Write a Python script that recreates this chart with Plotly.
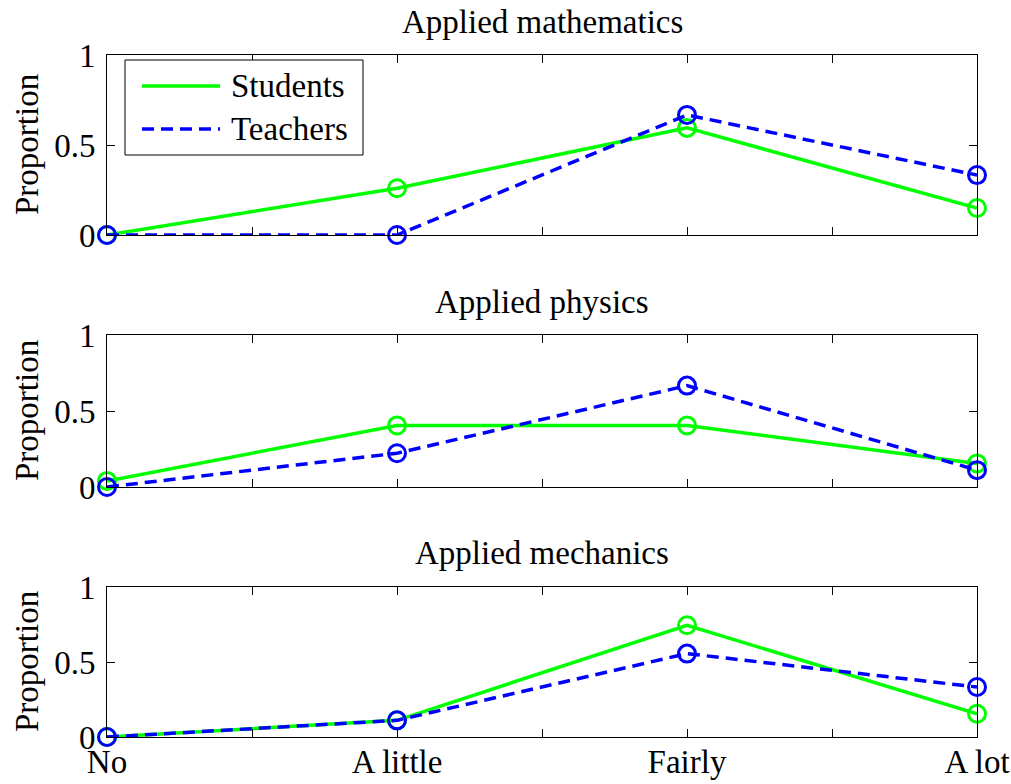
import plotly.graph_objects as go
from plotly.subplots import make_subplots

# Response categories and tick layout
categories = ["No", "A little", "Fairly", "A lot"]
x_positions = [1, 2, 3, 4]
x_tick_vals = [1, 1.5, 2, 2.5, 3, 3.5, 4]
x_tick_text = ["No", "", "A little", "", "Fairly", "", "A lot"]
y_tick_vals = [0, 0.5, 1]
y_tick_text = ["0", "0.5", "1"]

panel_titles = ["Applied mathematics", "Applied physics", "Applied mechanics"]

# Proportion of responses per category
students_math = [0.0, 0.26, 0.595, 0.15]
teachers_math = [0.0, 0.0, 0.667, 0.333]
students_phys = [0.04, 0.405, 0.405, 0.155]
teachers_phys = [0.0, 0.222, 0.667, 0.111]
students_mech = [0.0, 0.111, 0.745, 0.155]
teachers_mech = [0.0, 0.111, 0.556, 0.333]

students = [students_math, students_phys, students_mech]
teachers = [teachers_math, teachers_phys, teachers_mech]

W, H = 1011, 784
FONT = "Liberation Serif"
FS = 33
GREEN = "#00FF00"
BLUE = "#0000FF"


def px_x(p):
    return p / W


def px_y(p):
    return 1 - p / H


# panel extents in pixels (top, bottom)
panels = [(55, 235), (335, 487), (587, 737)]
x_left, x_right = 107, 977

fig = make_subplots(rows=3, cols=1)

for i in range(3):
    fig.add_trace(go.Scatter(
        x=x_positions, y=students[i], mode="lines+markers",
        line=dict(color=GREEN, width=3.5),
        marker=dict(symbol="circle-open", size=17, color=GREEN, line=dict(width=3, color=GREEN)),
        cliponaxis=False, showlegend=False, name="Students"), row=i + 1, col=1)
    fig.add_trace(go.Scatter(
        x=x_positions, y=teachers[i], mode="lines+markers",
        line=dict(color=BLUE, width=3.5, dash="12px,7px"),
        marker=dict(symbol="circle-open", size=17, color=BLUE, line=dict(width=3, color=BLUE)),
        cliponaxis=False, showlegend=False, name="Teachers"), row=i + 1, col=1)

axis_common = dict(showline=True, mirror="ticks", linecolor="black", linewidth=1,
                   ticks="inside", ticklen=8, tickcolor="black", tickwidth=1,
                   showgrid=False, zeroline=False, automargin=False,
                   tickfont=dict(family=FONT, size=FS, color="black"))

for i, (top, bot) in enumerate(panels):
    xa = "xaxis" if i == 0 else f"xaxis{i + 1}"
    ya = "yaxis" if i == 0 else f"yaxis{i + 1}"
    fig.update_layout({
        xa: dict(domain=[px_x(x_left), px_x(x_right)], range=[1, 4],
                 tickmode="array", tickvals=x_tick_vals, ticktext=x_tick_text,
                 showticklabels=(i == 2), ticklabelstandoff=-5, **axis_common),
        ya: dict(domain=[px_y(bot), px_y(top)], range=[0, 1],
                 tickmode="array", tickvals=y_tick_vals, ticktext=y_tick_text,
                 ticklabelstandoff=4, **axis_common),
    })

annotations = []
title_centers = [22, 302, 553]
for i, (top, bot) in enumerate(panels):
    annotations.append(dict(text=panel_titles[i], x=px_x((x_left + x_right) / 2), y=px_y(title_centers[i]),
                            xref="paper", yref="paper", xanchor="center", yanchor="middle",
                            showarrow=False, font=dict(family=FONT, size=FS, color="black")))
    annotations.append(dict(text="Proportion", x=px_x(27), y=px_y((top + bot) / 2),
                            xref="paper", yref="paper", xanchor="center", yanchor="middle",
                            textangle=-90, showarrow=False,
                            font=dict(family=FONT, size=FS, color="black")))

# legend box drawn in the first panel
leg_x0, leg_x1, leg_y0, leg_y1 = 125, 363, 60, 155
shapes = [dict(type="rect", xref="paper", yref="paper",
               x0=px_x(leg_x0), x1=px_x(leg_x1), y0=px_y(leg_y1), y1=px_y(leg_y0),
               line=dict(color="black", width=1), fillcolor="white", layer="above")]
legend_items = [("Students", GREEN, "solid", 86), ("Teachers", BLUE, "12px,7px", 129)]
for label, color, dash, yc in legend_items:
    shapes.append(dict(type="line", xref="paper", yref="paper",
                       x0=px_x(142), x1=px_x(220), y0=px_y(yc), y1=px_y(yc),
                       line=dict(color=color, width=3.5, dash=dash), layer="above"))
    annotations.append(dict(text=label, x=px_x(229), y=px_y(yc), xref="paper", yref="paper",
                            xanchor="left", yanchor="middle", showarrow=False,
                            font=dict(family=FONT, size=FS, color="black")))

fig.update_layout(width=W, height=H, margin=dict(l=0, r=0, t=0, b=0),
                  paper_bgcolor="white", plot_bgcolor="white",
                  annotations=annotations, shapes=shapes, showlegend=False)

fig.write_html("out.html")
